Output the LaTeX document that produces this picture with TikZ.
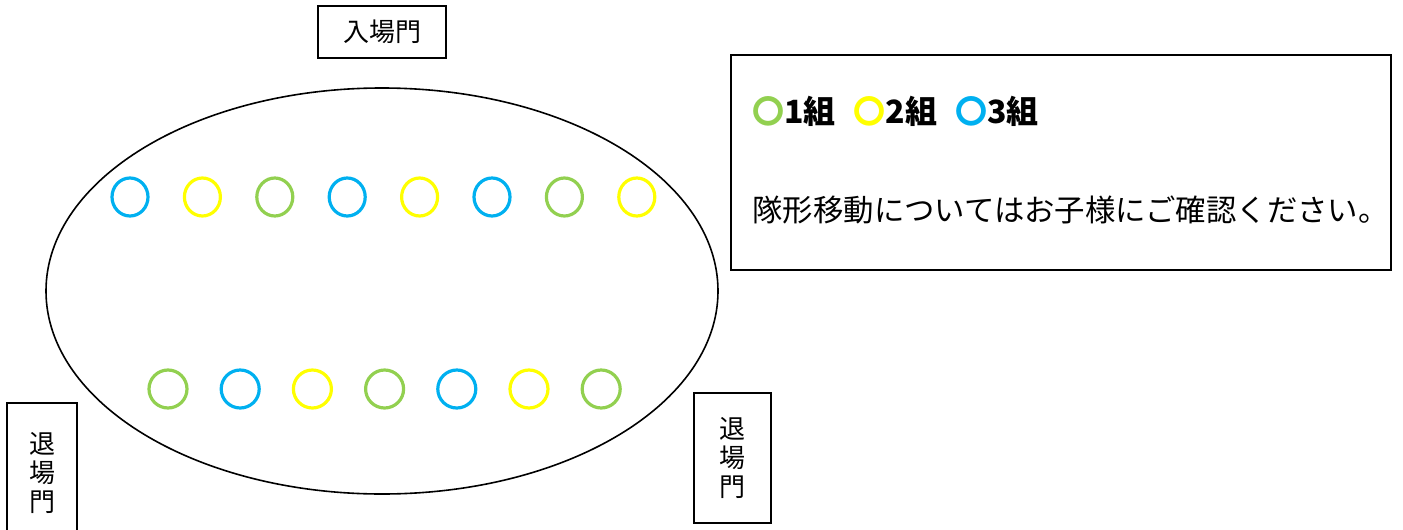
\documentclass[tikz,border=0pt]{standalone}
\usepackage{fontspec}
\setmainfont{Noto Sans CJK JP}
\usepackage{xcolor}
\definecolor{kumiA}{HTML}{92D050}
\definecolor{kumiB}{HTML}{FFFF00}
\definecolor{kumiC}{HTML}{00B0F0}

\tikzset{
  gate/.style={draw, line width=1pt, inner sep=0pt, align=center,
    font=\fontsize{13pt}{14.5pt}\selectfont},
  seat/.style={line width=1.6pt},
  note/.style={anchor=west, inner sep=0pt, font=\fontsize{15.2pt}{16pt}\selectfont},
}

\begin{document}
\begin{tikzpicture}[x=0.5pt,y=-0.5pt]
\useasboundingbox (0,0) rectangle (1403,530);
\clip (0,0) rectangle (1403,530);

% field
\draw[line width=0.8pt] (382,291) ellipse [x radius=336, y radius=203];

% gates
\node[gate, minimum width=64pt, minimum height=26pt] (nyujo) at (382,32) {入場門};
\node[gate, minimum width=35pt, minimum height=70pt] (taijoL) at (42,473) {退\\場\\門};
\node[gate, minimum width=38.5pt, minimum height=65pt] (taijoR) at (732.5,458) {退\\場\\門};

% front row
\foreach \c [count=\i from 0] in {kumiC,kumiB,kumiA,kumiC,kumiB,kumiC,kumiA,kumiB}{
\draw[seat,\c] (130+72.4*\i,197) ellipse [x radius=18, y radius=19];
}
% back row
\foreach \c [count=\i from 0] in {kumiA,kumiC,kumiB,kumiA,kumiC,kumiB,kumiA}{
\draw[seat,\c] (168+72.2*\i,389) circle [radius=19];
}

% legend
\node[draw, line width=1pt, minimum width=330pt, minimum height=107.5pt] (hanrei) at (1061,162.5) {};
\node[note, font=\fontsize{16pt}{17pt}\selectfont\bfseries] (kumi) at (752,111)
  {{\color{kumiA}〇}1組\hspace{9pt}{\color{kumiB}〇}2組\hspace{9pt}{\color{kumiC}〇}3組};
\node[note] (chui) at (752,210) {隊形移動についてはお子様にご確認ください。};

\end{tikzpicture}
\end{document}
